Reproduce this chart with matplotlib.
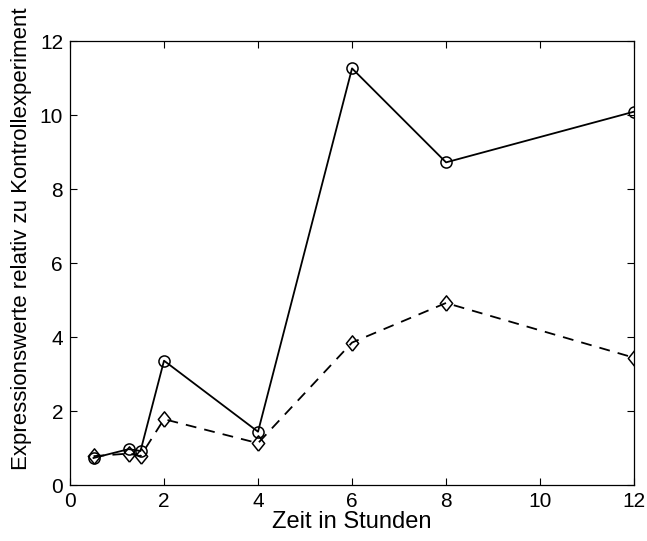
import matplotlib
matplotlib.use("Agg")
import matplotlib.pyplot as plt

plt.rcParams['font.family'] = ['Liberation Sans', 'DejaVu Sans']

# Zeitpunkte in Stunden
zeit = [0.5, 1.25, 1.5, 2, 4, 6, 8, 12]
# Expressionswerte relativ zu Kontrollexperiment
kurve_a = [0.73, 0.97, 0.92, 3.36, 1.44, 11.26, 8.72, 10.09]
kurve_b = [0.78, 0.85, 0.78, 1.78, 1.13, 3.85, 4.92, 3.44]

# MATLAB-artige Raute (etwas hoeher als breit)
raute = [(0, -0.62), (0.5, 0), (0, 0.62), (-0.5, 0), (0, -0.62)]

fig = plt.figure(figsize=(6.47, 5.41), dpi=100)
ax = fig.add_axes([0.1082, 0.1035, 0.8718, 0.8207])

ax.plot(zeit, kurve_a, color='black', linestyle='-', linewidth=1.3,
        marker='o', markersize=8, markerfacecolor='none', markeredgewidth=1.1)
ax.plot(zeit, kurve_b, color='black', linestyle=(0, (6, 4.5)), linewidth=1.3,
        marker=raute, markersize=11, markerfacecolor='none', markeredgewidth=1.1)

ax.set_xlim(0, 12)
ax.set_ylim(0, 12)
ax.set_xticks(range(0, 13, 2))
ax.set_yticks(range(0, 13, 2))
ax.tick_params(direction='in', top=True, right=True, labelsize=15, length=5, pad=5)
for s in ax.spines.values():
    s.set_linewidth(0.9)

ax.set_xlabel('Zeit in Stunden', fontsize=17, labelpad=0)
ax.set_ylabel('Expressionswerte relativ zu Kontrollexperiment', fontsize=16)
ax.yaxis.set_label_coords(-0.067, 0.555)

fig.savefig('out.png', dpi=100)
